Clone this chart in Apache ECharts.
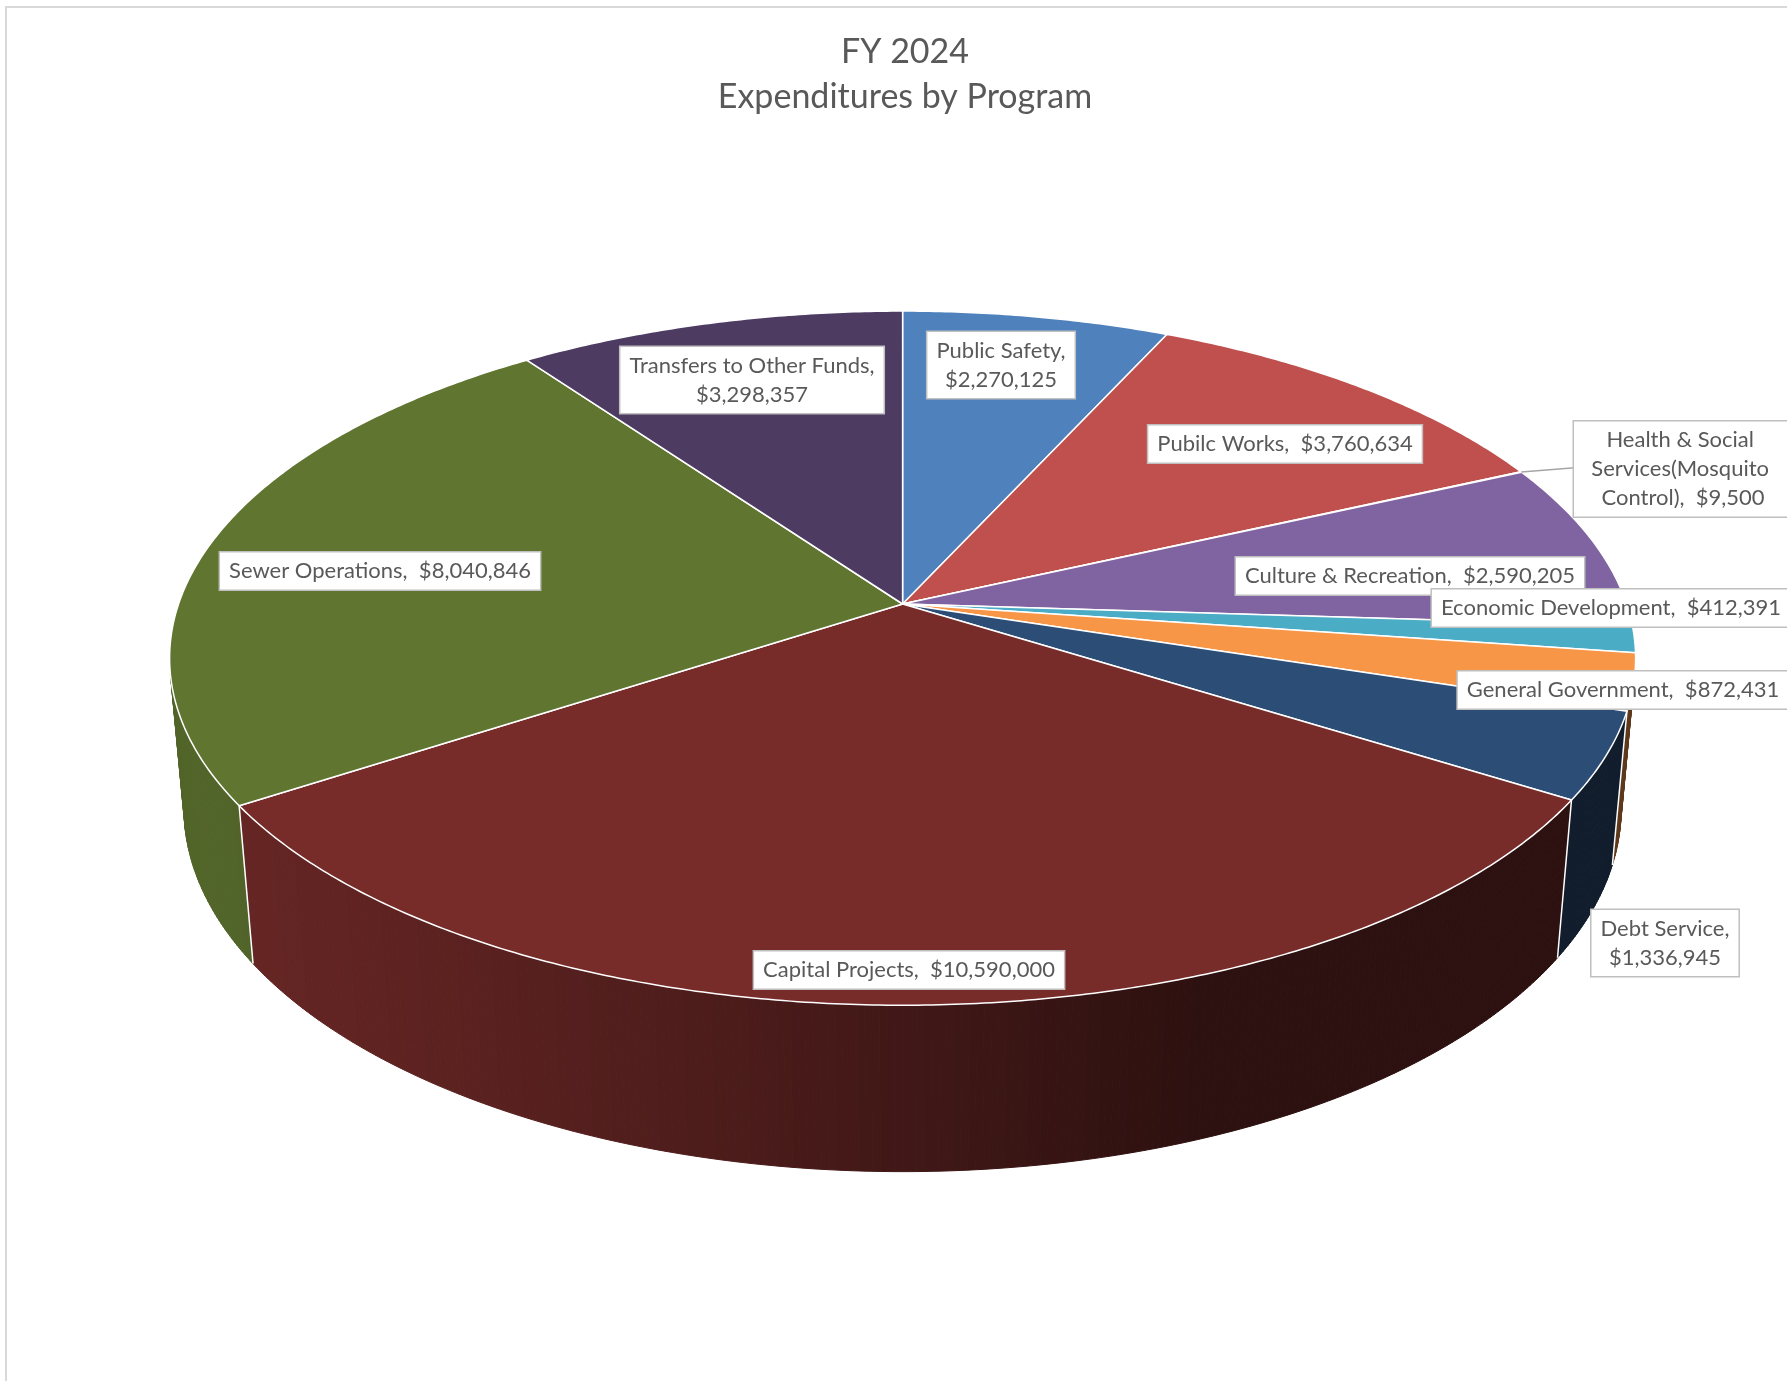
<!DOCTYPE html>
<html>
<head>
<meta charset="utf-8">
<title>FY 2024 Expenditures by Program</title>
<script src="https://cdn.jsdelivr.net/npm/echarts@6/dist/echarts.min.js"></script>
<style>
  html, body { margin: 0; padding: 0; background: #fff; }
  #chart { width: 1787px; height: 1381px; }
</style>
</head>
<body>
<div id="chart"></div>
<script>
// 数据（从图上读取，顺时针自 12 点方向开始）
const PROGRAMS = [
  'Public Safety', 'Pubilc Works', 'Health & Social Services(Mosquito Control)',
  'Culture & Recreation', 'Economic Development', 'General Government',
  'Debt Service', 'Capital Projects', 'Sewer Operations', 'Transfers to Other Funds',
];
const AMOUNTS = [2270125, 3760634, 9500, 2590205, 412391, 872431, 1336945, 10590000, 8040846, 3298357];
const COLORS = ['#4F81BD', '#C0504D', '#9BBB59', '#8064A2', '#4BACC6', '#F79646',
                '#2C4D75', '#772C2A', '#5F7530', '#4D3B62'];

// 标签布局（框中心位置、换行方式），只管样式，不含数据
const LABEL_LAYOUT = [
  { x: 1001, y: 365, sep: '\n' },
  { x: 1285, y: 444, sep: '  ' },
  { x: 1683, y: 469, sep: '  ', wrap: 200, leader: 1584 },
  { x: 1410, y: 576, sep: '  ' },
  { x: 1611, y: 608, sep: '  ' },
  { x: 1623, y: 690, sep: '  ' },
  { x: 1665, y: 943, sep: '\n' },
  { x: 909, y: 970, sep: '  ' },
  { x: 380, y: 571, sep: '  ' },
  { x: 752, y: 380, sep: '\n' },
];

// ── 3D 透视参数（单位半径圆盘，俯角约 28°）──
const CX = 902.6, CY = 604, FOCAL = 4103, DIST = 5.667;
const SIN_T = 0.4677, COS_T = 0.884, DEPTH = 0.2368;
const TOTAL = AMOUNTS.reduce((s, v) => s + v, 0);
const START = [];
AMOUNTS.reduce((acc, v) => { START.push(acc / TOTAL * Math.PI * 2); return acc + v; }, 0);
const VIS = Math.acos(1 / (DIST * COS_T)); // 侧面可见范围（相对正前方）
const STEP = Math.PI / 360;

function project(r, a, y) {
  const X = r * Math.sin(a), Z = -r * Math.cos(a);
  const d = DIST - (Z * COS_T + y * SIN_T);
  return [CX + FOCAL * X / d, CY + FOCAL * (Z * SIN_T - y * COS_T) / d];
}

function shade(hex, k) {
  const n = parseInt(hex.slice(1), 16);
  const c = [(n >> 16) & 255, (n >> 8) & 255, n & 255].map(v => Math.round(v * k));
  return `rgb(${c.join(',')})`;
}

// 侧面光照：左前方来光
const LIGHT = 250 / 180 * Math.PI;
const wallFactor = a => 0.38 + 0.48 * Math.max(0, Math.cos(a - LIGHT));

function fmtMoney(v) {
  return '$' + v.toLocaleString('en-US');
}

function renderSide(params) {
  const i = params.dataIndex;
  const a0 = START[i], a1 = a0 + AMOUNTS[i] / TOTAL * Math.PI * 2;
  const lo = Math.max(a0, Math.PI - VIS), hi = Math.min(a1, Math.PI + VIS);
  const children = [];
  if (hi > lo) {
    const n = Math.max(1, Math.ceil((hi - lo) / STEP));
    for (let k = 0; k < n; k++) {
      const t0 = lo + (hi - lo) * k / n, t1 = lo + (hi - lo) * (k + 1) / n;
      const col = shade(COLORS[i], wallFactor((t0 + t1) / 2));
      children.push({
        type: 'polygon', z2: 1,
        shape: { points: [project(1, t0, 0), project(1, t1, 0), project(1, t1, -DEPTH), project(1, t0, -DEPTH)] },
        style: { fill: col, stroke: col, lineWidth: 1 },
      });
    }
  }
  if (a0 > Math.PI - VIS && a0 < Math.PI + VIS) {
    const p = project(1, a0, 0), q = project(1, a0, -DEPTH);
    children.push({
      type: 'line', z2: 3,
      shape: { x1: p[0], y1: p[1], x2: q[0], y2: q[1] },
      style: { stroke: '#fff', lineWidth: 1.5 },
    });
  }
  return { type: 'group', children };
}

function renderTop(params) {
  const i = params.dataIndex;
  const a0 = START[i], a1 = a0 + AMOUNTS[i] / TOTAL * Math.PI * 2;
  const n = Math.max(1, Math.ceil((a1 - a0) / STEP));
  const pts = [project(0, 0, 0)];
  for (let k = 0; k <= n; k++) pts.push(project(1, a0 + (a1 - a0) * k / n, 0));
  const lay = LABEL_LAYOUT[i];
  const children = [{
    type: 'polygon', z2: 10,
    shape: { points: pts },
    style: { fill: COLORS[i], stroke: '#fff', lineWidth: 1.5, lineJoin: 'round' },
  }];
  if (lay.leader) {
    const rim = project(1, (a0 + a1) / 2, 0);
    children.push({
      type: 'line', z2: 15,
      shape: { x1: rim[0], y1: rim[1], x2: lay.leader, y2: lay.y - 2 },
      style: { stroke: '#a6a6a6', lineWidth: 1.5 },
    });
  }
  children.push({
    type: 'text', z2: 20,
    x: lay.x, y: lay.y,
    style: {
      text: PROGRAMS[i] + ',' + lay.sep + fmtMoney(AMOUNTS[i]),
      fill: '#595959', fontSize: 22, fontFamily: 'Lato',
      align: 'center', verticalAlign: 'middle', lineHeight: 29,
      width: lay.wrap, overflow: lay.wrap ? 'break' : 'none',
      backgroundColor: '#fff', borderColor: '#bfbfbf', borderWidth: 1.5,
      padding: [4, 9],
    },
  });
  return { type: 'group', children };
}

const seriesData = AMOUNTS.map((v, i) => ({ name: PROGRAMS[i], value: v }));

const chart = echarts.init(document.getElementById('chart'));
chart.setOption({
  animation: false,
  backgroundColor: '#fff',
  title: {
    text: 'FY 2024\nExpenditures by Program',
    left: 900, top: 25, textAlign: 'center',
    textStyle: { fontSize: 34, fontWeight: 'normal', color: '#595959', fontFamily: 'Lato', lineHeight: 45 },
  },
  graphic: [{
    type: 'rect', silent: true,
    shape: { x: 6, y: 7, width: 1900, height: 1500 },
    style: { fill: 'none', stroke: '#d9d9d9', lineWidth: 2 },
  }],
  series: [
    { type: 'custom', name: 'side', coordinateSystem: 'none', renderItem: renderSide, data: seriesData },
    { type: 'custom', name: 'top', coordinateSystem: 'none', renderItem: renderTop, data: seriesData },
  ],
});
window.addEventListener('resize', () => chart.resize());
</script>
</body>
</html>
